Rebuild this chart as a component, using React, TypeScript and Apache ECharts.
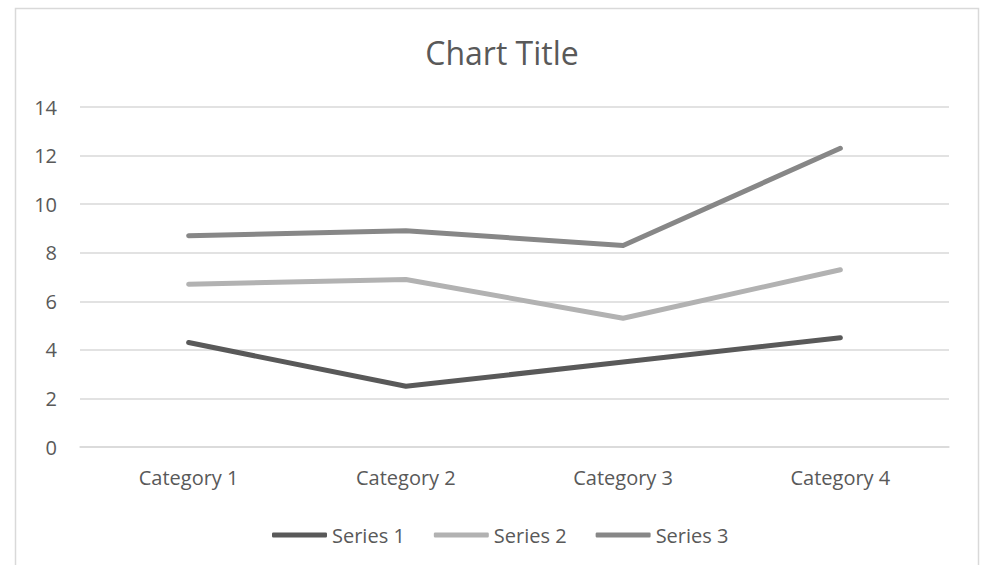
import React, { useEffect, useRef } from "react";
import * as echarts from "echarts";

const categories = ["Category 1", "Category 2", "Category 3", "Category 4"];
const series1 = [4.3, 2.5, 3.5, 4.5];
const series2 = [2.4, 4.4, 1.8, 2.8];
const series3 = [2, 2, 3, 5];
const seriesNames = ["Series 1", "Series 2", "Series 3"];
const colors = ["#595959", "#b2b2b2", "#878787"];

const FONT = "'Open Sans', 'Noto Sans', sans-serif";

export default function App() {
  const ref = useRef<HTMLDivElement>(null);
  useEffect(() => {
    if (!ref.current) return;
    const chart = echarts.init(ref.current, undefined, { renderer: "svg" });
    const data = [series1, series2, series3];
    chart.setOption({
      animation: false,
      backgroundColor: "#ffffff",
      color: colors,
      title: {
        text: "Chart Title",
        left: 497,
        textAlign: "center",
        top: 31,
        textStyle: { fontFamily: FONT, fontSize: 32, fontWeight: "normal", color: "#595959" },
      },
      graphic: [
        {
          type: "rect",
          shape: { x: 15.5, y: 8.5, width: 963, height: 600 },
          style: { fill: "none", stroke: "#d9d9d9", lineWidth: 1.5 },
          silent: true,
        },
      ],
      legend: {
        top: 520,
        left: 272,
        padding: [5, 0, 5, 0],
        icon: "roundRect",
        itemWidth: 55,
        itemHeight: 5,
        itemGap: 29,
        textStyle: { fontFamily: FONT, fontSize: 20, color: "#595959" },
        data: seriesNames,
      },
      grid: { left: 80, right: 35, top: 107, bottom: 118 },
      xAxis: {
        type: "category",
        data: categories,
        boundaryGap: true,
        axisLine: { show: true, lineStyle: { color: "#d9d9d9", width: 1.5 } },
        axisTick: { show: false },
        axisLabel: { fontFamily: FONT, fontSize: 20, color: "#595959", margin: 20 },
      },
      yAxis: {
        type: "value",
        min: 0,
        max: 14,
        interval: 2,
        axisLine: { show: false },
        axisTick: { show: false },
        axisLabel: { fontFamily: FONT, fontSize: 20, color: "#595959", margin: 23 },
        splitLine: { lineStyle: { color: "#d9d9d9", width: 1.5 } },
      },
      series: seriesNames.map((name, i) => ({
        name,
        type: "line",
        stack: "total",
        data: data[i],
        showSymbol: false,
        symbol: "none",
        lineStyle: { width: 5, color: colors[i], cap: "round", join: "round" },
        itemStyle: { color: colors[i] },
      })),
    });
    return () => chart.dispose();
  }, []);
  return (
    <div
      ref={ref}
      style={{ position: "fixed", left: 0, top: 0, width: 984, height: 565 }}
    />
  );
}
